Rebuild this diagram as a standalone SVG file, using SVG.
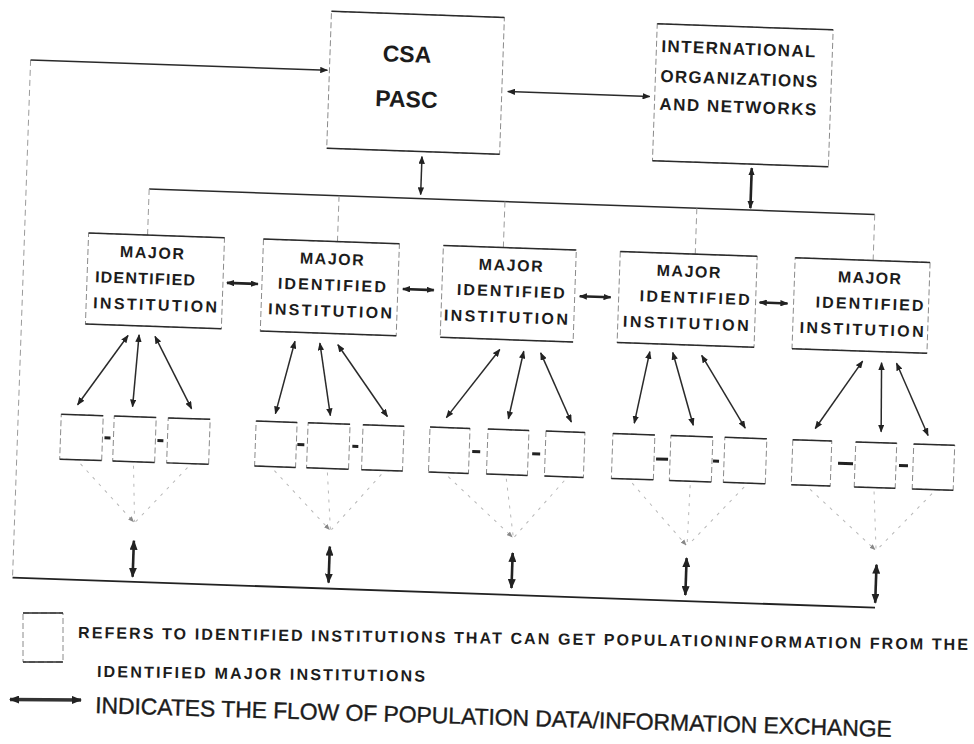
<svg xmlns="http://www.w3.org/2000/svg" width="974" height="744" viewBox="0 0 974 744">
  <defs>
    <style>
      .frame{fill:#fff;stroke:#8a8a8a;stroke-width:1;stroke-dasharray:6 3}
      .edge{fill:none;stroke:#2a2a2a;stroke-width:1.5}
      .conn{fill:none;stroke:#2a2a2a;stroke-width:1.5}
      .thick{fill:none;stroke:#222;stroke-width:2.6}
      .drop{fill:none;stroke:#9a9a9a;stroke-width:1;stroke-dasharray:6 4}
      .dot{fill:none;stroke:#b8b8b8;stroke-width:1;stroke-dasharray:3 6}
      .link{fill:none;stroke:#222;stroke-width:3}
      .lbl{font-family:"Liberation Sans",Arial,sans-serif;font-weight:bold;fill:#1c1c1c}
      .big{font-size:23px;text-anchor:middle}
      .org{font-size:17px}
      .mii{font-size:16px;text-anchor:middle}
      .note{font-size:16px}
      .flow{font-family:"Liberation Sans",Arial,sans-serif;font-size:23px;fill:#1c1c1c;stroke:#1c1c1c;stroke-width:0.35}
    </style>
    <marker id="ah" viewBox="0 0 10 8" refX="9" refY="4" markerWidth="8" markerHeight="6.4" orient="auto-start-reverse" markerUnits="userSpaceOnUse">
      <path d="M0,0 L10,4 L0,8 z" fill="#222"/>
    </marker>
    <marker id="ahb" viewBox="0 0 10 8" refX="9" refY="4" markerWidth="10" markerHeight="8" orient="auto-start-reverse" markerUnits="userSpaceOnUse">
      <path d="M0,0 L10,4 L0,8 z" fill="#222"/>
    </marker>
    <marker id="ahs" viewBox="0 0 10 8" refX="9" refY="4" markerWidth="6" markerHeight="5" orient="auto" markerUnits="userSpaceOnUse">
      <path d="M0,0 L10,4 L0,8 z" fill="#888"/>
    </marker>
  </defs>
  <rect width="974" height="744" fill="#fff"/>

  <!-- the whole chart sits on a slightly tilted sheet -->
  <g transform="rotate(2 487 372)">

    <!-- connectors -->
    <g id="connectors">
      <!-- outer feedback loop -->
      <path class="drop" d="M20,76 V594"/>
      <path class="conn" d="M20,76 H317" marker-end="url(#ah)"/>
      <path d="M20,594 H883" fill="none" stroke="#222" stroke-width="1.8"/>
      <!-- CSA <-> international -->
      <path class="conn" d="M498,91 H640" marker-start="url(#ah)" marker-end="url(#ah)"/>
      <!-- to distribution bus -->
      <path class="conn" d="M414.5,159 V197" marker-start="url(#ah)" marker-end="url(#ah)"/>
      <path class="thick" d="M744.5,159 V199" marker-start="url(#ah)" marker-end="url(#ah)"/>
      <path class="conn" d="M143,201 H869"/>
      <path class="drop" d="M143,201 V247 M333,201 V247 M499,201 V247 M691,201 V247 M869,201 V247"/>
      <!-- between major institutions -->
      <path class="thick" d="M224,292 H255" marker-start="url(#ah)" marker-end="url(#ah)"/>
      <path class="thick" d="M400,292 H431" marker-start="url(#ah)" marker-end="url(#ah)"/>
      <path class="thick" d="M577,293 H608" marker-start="url(#ah)" marker-end="url(#ah)"/>
      <path class="thick" d="M757,293 H785" marker-start="url(#ah)" marker-end="url(#ah)"/>
      <!-- major institution <-> identified institutions -->
      <g class="conn" stroke-width="2">
        <path d="M127,348 L79,419" marker-start="url(#ah)" marker-end="url(#ah)"/>
        <path d="M138,347 L134,419" marker-start="url(#ah)" marker-end="url(#ah)"/>
        <path d="M154,348 L193,419" marker-start="url(#ah)" marker-end="url(#ah)"/>
        <path d="M294,348 L277,421" marker-start="url(#ah)" marker-end="url(#ah)"/>
        <path d="M319,349 L332,421" marker-start="url(#ah)" marker-end="url(#ah)"/>
        <path d="M337,350 L389,420" marker-start="url(#ah)" marker-end="url(#ah)"/>
        <path d="M499,349 L448,419" marker-start="url(#ah)" marker-end="url(#ah)"/>
        <path d="M523,350 L510,418" marker-start="url(#ah)" marker-end="url(#ah)"/>
        <path d="M540,351 L573,419" marker-start="url(#ah)" marker-end="url(#ah)"/>
        <path d="M649,346 L636,418" marker-start="url(#ah)" marker-end="url(#ah)"/>
        <path d="M672,346 L695,418" marker-start="url(#ah)" marker-end="url(#ah)"/>
        <path d="M701,348 L747,419" marker-start="url(#ah)" marker-end="url(#ah)"/>
        <path d="M862,348 L817,417" marker-start="url(#ah)" marker-end="url(#ah)"/>
        <path d="M881,349 L883,418" marker-start="url(#ah)" marker-end="url(#ah)"/>
        <path d="M896,349 L930,420" marker-start="url(#ah)" marker-end="url(#ah)"/>
      </g>
      <!-- links inside each cluster -->
      <path class="link" d="M107,451 H113 M160,452 H166 M300,451 H307 M355,451 H361 M475,452 H483 M535,452 H543 M659,453 H671 M716,453 H722 M841,451 H856 M902,451 H911"/>
      <!-- clusters converge -->
      <g class="dot">
        <path d="M84,478 L139,534" marker-end="url(#ahs)"/>
        <path d="M137,478 L140,534"/>
        <path d="M191,478 L141,534"/>
        <path d="M278,478 L335,535" marker-end="url(#ahs)"/>
        <path d="M331,478 L336,535"/>
        <path d="M385,478 L337,535"/>
        <path d="M452,478 L518,536" marker-end="url(#ahs)"/>
        <path d="M510,478 L519,536"/>
        <path d="M568,478 L520,536"/>
        <path d="M636,478 L692,538" marker-end="url(#ahs)"/>
        <path d="M694,478 L693,538"/>
        <path d="M748,478 L694,538"/>
        <path d="M814,478 L881,536" marker-end="url(#ahs)"/>
        <path d="M878,478 L882,536"/>
        <path d="M936,478 L883,536"/>
      </g>
      <!-- clusters <-> outer loop -->
      <path class="thick" d="M140,553 V589" marker-start="url(#ahb)" marker-end="url(#ahb)"/>
      <path class="thick" d="M336,552 V588" marker-start="url(#ahb)" marker-end="url(#ahb)"/>
      <path class="thick" d="M519,552 V587" marker-start="url(#ahb)" marker-end="url(#ahb)"/>
      <path class="thick" d="M693,551 V588" marker-start="url(#ahb)" marker-end="url(#ahb)"/>
      <path class="thick" d="M883,551 V589" marker-start="url(#ahb)" marker-end="url(#ahb)"/>
    </g>

    <!-- central agency -->
    <g id="csa">
      <rect class="frame" x="319" y="17" width="173" height="137"/>
      <path class="edge" d="M319,17 H492 M319,154 H492"/>
      <text class="lbl big" x="396" y="65">CSA</text>
      <text class="lbl big" x="397" y="110">PASC</text>
    </g>

    <g id="intl">
      <rect class="frame" x="645" y="18" width="176" height="137"/>
      <path class="edge" d="M645,18 H821 M645,155 H821"/>
      <text class="lbl org" x="650" y="46" textLength="154" lengthAdjust="spacing">INTERNATIONAL</text>
      <text class="lbl org" x="650" y="76" textLength="157" lengthAdjust="spacing">ORGANIZATIONS</text>
      <text class="lbl org" x="650" y="104" textLength="157" lengthAdjust="spacing">AND NETWORKS</text>
    </g>

    <!-- major identified institutions -->
    <g id="mii1">
      <rect class="frame" x="84" y="247" width="136" height="91"/>
      <path class="edge" d="M84,247 H220 M84,338 H220"/>
      <text class="lbl mii" x="148" y="270" textLength="64" lengthAdjust="spacing">MAJOR</text>
      <text class="lbl mii" x="142" y="296" textLength="100" lengthAdjust="spacing">IDENTIFIED</text>
      <text class="lbl mii" x="153" y="322" textLength="124" lengthAdjust="spacing">INSTITUTION</text>
    </g>
    <g id="mii2">
      <rect class="frame" x="259" y="247" width="136" height="92"/>
      <path class="edge" d="M259,247 H395 M259,339 H395"/>
      <text class="lbl mii" x="328" y="270" textLength="64" lengthAdjust="spacing">MAJOR</text>
      <text class="lbl mii" x="329" y="296" textLength="108" lengthAdjust="spacing">IDENTIFIED</text>
      <text class="lbl mii" x="328" y="322" textLength="124" lengthAdjust="spacing">INSTITUTION</text>
    </g>
    <g id="mii3">
      <rect class="frame" x="439" y="247" width="133" height="92"/>
      <path class="edge" d="M439,247 H572 M439,339 H572"/>
      <text class="lbl mii" x="507" y="270" textLength="64" lengthAdjust="spacing">MAJOR</text>
      <text class="lbl mii" x="508" y="296" textLength="108" lengthAdjust="spacing">IDENTIFIED</text>
      <text class="lbl mii" x="504" y="322" textLength="124" lengthAdjust="spacing">INSTITUTION</text>
    </g>
    <g id="mii4">
      <rect class="frame" x="616" y="247" width="137" height="91"/>
      <path class="edge" d="M616,247 H753 M616,338 H753"/>
      <text class="lbl mii" x="685" y="270" textLength="64" lengthAdjust="spacing">MAJOR</text>
      <text class="lbl mii" x="692" y="296" textLength="110" lengthAdjust="spacing">IDENTIFIED</text>
      <text class="lbl mii" x="684" y="322" textLength="126" lengthAdjust="spacing">INSTITUTION</text>
    </g>
    <g id="mii5">
      <rect class="frame" x="791" y="247" width="135" height="91"/>
      <path class="edge" d="M791,247 H926 M791,338 H926"/>
      <text class="lbl mii" x="866" y="270" textLength="63" lengthAdjust="spacing">MAJOR</text>
      <text class="lbl mii" x="867" y="296" textLength="108" lengthAdjust="spacing">IDENTIFIED</text>
      <text class="lbl mii" x="860" y="322" textLength="124" lengthAdjust="spacing">INSTITUTION</text>
    </g>

    <!-- identified institutions, three per cluster -->
    <g id="ii1a"><rect class="frame" x="63" y="429" width="42" height="45"/><path class="edge" d="M63,429 H105 M63,474 H105"/></g>
    <g id="ii1b"><rect class="frame" x="116" y="429" width="42" height="45"/><path class="edge" d="M116,429 H158 M116,474 H158"/></g>
    <g id="ii1c"><rect class="frame" x="170" y="429" width="42" height="45"/><path class="edge" d="M170,429 H212 M170,474 H212"/></g>
    <g id="ii2a"><rect class="frame" x="258" y="429" width="41" height="45"/><path class="edge" d="M258,429 H299 M258,474 H299"/></g>
    <g id="ii2b"><rect class="frame" x="310" y="429" width="42" height="45"/><path class="edge" d="M310,429 H352 M310,474 H352"/></g>
    <g id="ii2c"><rect class="frame" x="365" y="429" width="41" height="45"/><path class="edge" d="M365,429 H406 M365,474 H406"/></g>
    <g id="ii3a"><rect class="frame" x="432" y="429" width="40" height="45"/><path class="edge" d="M432,429 H472 M432,474 H472"/></g>
    <g id="ii3b"><rect class="frame" x="490" y="429" width="41" height="45"/><path class="edge" d="M490,429 H531 M490,474 H531"/></g>
    <g id="ii3c"><rect class="frame" x="548" y="429" width="39" height="45"/><path class="edge" d="M548,429 H587 M548,474 H587"/></g>
    <g id="ii4a"><rect class="frame" x="615" y="429" width="42" height="45"/><path class="edge" d="M615,429 H657 M615,474 H657"/></g>
    <g id="ii4b"><rect class="frame" x="673" y="429" width="42" height="45"/><path class="edge" d="M673,429 H715 M673,474 H715"/></g>
    <g id="ii4c"><rect class="frame" x="727" y="429" width="42" height="45"/><path class="edge" d="M727,429 H769 M727,474 H769"/></g>
    <g id="ii5a"><rect class="frame" x="795" y="429" width="39" height="45"/><path class="edge" d="M795,429 H834 M795,474 H834"/></g>
    <g id="ii5b"><rect class="frame" x="858" y="429" width="41" height="45"/><path class="edge" d="M858,429 H899 M858,474 H899"/></g>
    <g id="ii5c"><rect class="frame" x="916" y="429" width="41" height="45"/><path class="edge" d="M916,429 H957 M916,474 H957"/></g>
  </g>

  <!-- key -->
  <g id="legend">
    <rect class="frame" x="23" y="613" width="40" height="49"/>
    <path class="edge" d="M23,613 H63 M23,662 H63"/>
    <text class="lbl note" x="78" y="638" transform="rotate(0.77 78 638)" textLength="890" lengthAdjust="spacing">REFERS TO IDENTIFIED INSTITUTIONS THAT CAN GET POPULATIONINFORMATION FROM THE</text>
    <text class="lbl note" x="97" y="677" transform="rotate(0.8 97 677)" textLength="328" lengthAdjust="spacing">IDENTIFIED MAJOR INSTITUTIONS</text>
    <path d="M10,699.5 L81,700" fill="none" stroke="#333" stroke-width="3.4" marker-start="url(#ahb)" marker-end="url(#ahb)"/>
    <text class="flow" x="95" y="713" transform="rotate(1.72 95 713)" textLength="797" lengthAdjust="spacing">INDICATES THE FLOW OF POPULATION DATA/INFORMATION EXCHANGE</text>
  </g>
</svg>
